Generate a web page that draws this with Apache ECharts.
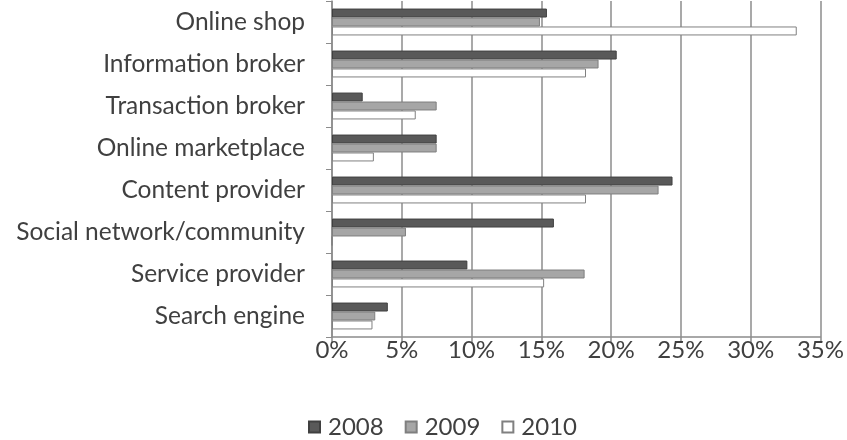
<!DOCTYPE html>
<html>
<head>
<meta charset="utf-8">
<script src="https://cdn.jsdelivr.net/npm/echarts@6/dist/echarts.min.js"></script>
<style>
  html, body { margin: 0; padding: 0; background: #ffffff; }
  #chart { width: 847px; height: 440px; }
</style>
</head>
<body>
<div id="chart"></div>
<script>
// Business model categories (top to bottom)
const categories = [
  'Online shop',
  'Information broker',
  'Transaction broker',
  'Online marketplace',
  'Content provider',
  'Social network/community',
  'Service provider',
  'Search engine'
];

// Share per year, in percent
const values2008 = [15.4, 20.4, 2.2, 7.5, 24.4, 15.9, 9.7, 4.0];
const values2009 = [14.9, 19.1, 7.5, 7.5, 23.4, 5.3, 18.1, 3.1];
const values2010 = [33.3, 18.2, 6.0, 3.0, 18.2, 0, 15.2, 2.9];

const seriesNames = ['2008', '2009', '2010'];
const xTicks = [0, 5, 10, 15, 20, 25, 30, 35];

const font = 'Lato, Calibri, "Open Sans", sans-serif';
const textColor = '#404040';

const chart = echarts.init(document.getElementById('chart'));

const styles = [
  { color: '#595959', borderColor: '#404040' },
  { color: '#a6a6a6', borderColor: '#7f7f7f' },
  { color: '#ffffff', borderColor: '#808080' }
];
const data = [values2008, values2009, values2010];

chart.setOption({
  animation: false,
  backgroundColor: '#ffffff',
  grid: { left: 332, right: 25, top: 1, height: 336, containLabel: false },
  legend: {
    data: seriesNames,
    top: 410,
    left: 303,
    icon: 'rect',
    itemWidth: 11,
    itemHeight: 11,
    itemGap: 21,
    textStyle: { fontFamily: font, fontSize: 24, color: textColor, padding: [0, 0, 0, 3] }
  },
  xAxis: {
    type: 'value',
    min: xTicks[0],
    max: xTicks[xTicks.length - 1],
    interval: 5,
    axisLine: { show: true, lineStyle: { color: '#8c8c8c', width: 1.5 } },
    axisTick: { show: true, length: 6, lineStyle: { color: '#8c8c8c', width: 1.5 } },
    splitLine: { show: true, lineStyle: { color: '#8c8c8c', width: 1.5 } },
    axisLabel: {
      formatter: '{value}%',
      fontFamily: font,
      fontSize: 24,
      color: textColor,
      margin: 1
    }
  },
  yAxis: {
    type: 'category',
    data: categories,
    inverse: true,
    axisLine: { show: true, lineStyle: { color: '#8c8c8c', width: 1.5 } },
    axisTick: { show: true, length: 6, lineStyle: { color: '#8c8c8c', width: 1 } },
    axisLabel: {
      fontFamily: font,
      fontSize: 24.5,
      color: textColor,
      margin: 27
    }
  },
  series: seriesNames.map((name, i) => ({
    name: name,
    type: 'bar',
    data: data[i],
    barGap: '0%',
    barCategoryGap: '36%',
    itemStyle: {
      color: styles[i].color,
      borderColor: styles[i].borderColor,
      borderWidth: 1
    }
  }))
});
</script>
</body>
</html>
